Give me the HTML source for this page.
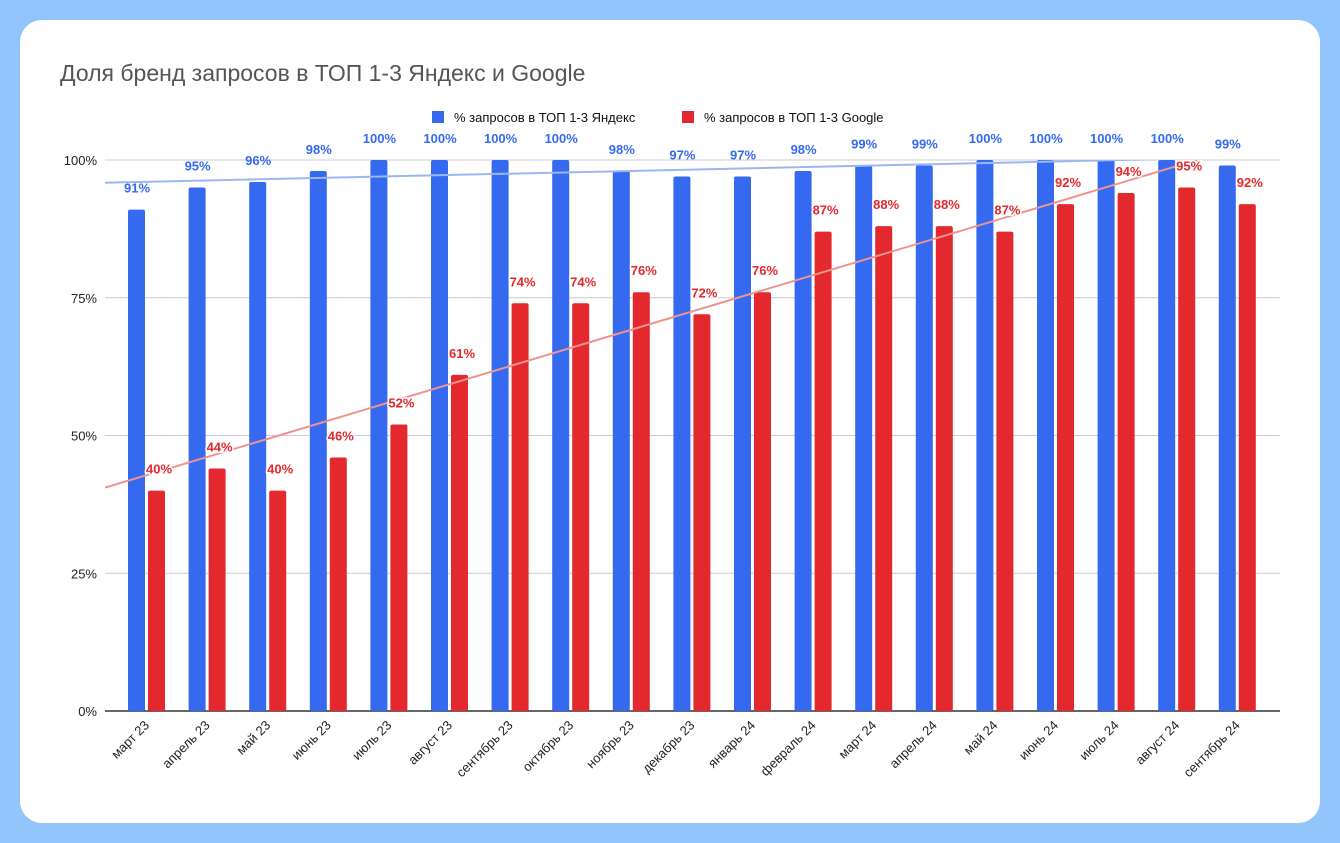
<!DOCTYPE html>
<html><head><meta charset="utf-8"><style>
body{margin:0;background:#93c5fd;width:1340px;height:843px;overflow:hidden;font-family:"Liberation Sans",Arial,sans-serif}
#card{position:absolute;left:20px;top:20px;width:1300px;height:803px;background:#fff;border-radius:22px}
</style></head><body>
<div id="card"></div>
<svg id="chart" width="1340" height="843" style="position:absolute;left:0;top:0">
<text x="60" y="81" font-size="23" fill="#555">Доля бренд запросов в ТОП 1-3 Яндекс и Google</text>
<g>
<rect x="432" y="111" width="12" height="12" fill="#3569f0"/>
<text x="454" y="122" font-size="13" fill="#111">% запросов в ТОП 1-3 Яндекс</text>
<rect x="682" y="111" width="12" height="12" fill="#e3292d"/>
<text x="704" y="122" font-size="13" fill="#111">% запросов в ТОП 1-3 Google</text>
</g>
<g id="grid"></g><g id="bars"></g><g id="trend"></g><g id="labels"></g>
</svg>
<script>
const categories=["март 23","апрель 23","май 23","июнь 23","июль 23","август 23","сентябрь 23","октябрь 23","ноябрь 23","декабрь 23","январь 24","февраль 24","март 24","апрель 24","май 24","июнь 24","июль 24","август 24","сентябрь 24"];
const yandex=[91,95,96,98,100,100,100,100,98,97,97,98,99,99,100,100,100,100,99];
const google=[40,44,40,46,52,61,74,74,76,72,76,87,88,88,87,92,94,95,92];
const ticks=[0,25,50,75,100];
const NS="http://www.w3.org/2000/svg";
const L=105,R=1280,Y0=711,Y100=160;
const y=v=>Y0-(v/100)*(Y0-Y100);
const xc=i=>147+i*60.6;
function mk(t,a,p){const e=document.createElementNS(NS,t);for(const k in a)e.setAttribute(k,a[k]);p.appendChild(e);return e;}
const grid=document.getElementById('grid'),bars=document.getElementById('bars'),trend=document.getElementById('trend'),labels=document.getElementById('labels');
ticks.forEach(t=>{
  const ln=mk('line',{x1:L,x2:R,y1:y(t),y2:y(t),stroke:t==0?'#333':'#ccc','stroke-width':t==0?1.5:1},grid);
  
  
  const tx=mk('text',{x:97,y:y(t)+5,'text-anchor':'end','font-size':13,fill:'#222'},grid);
  tx.textContent=t+'%';
  
  
});
categories.forEach((c,i)=>{
  const cx=xc(i);
  const b=mk('rect',{x:cx-19,y:y(yandex[i]),width:17,height:Y0-y(yandex[i]),fill:'#3569f0',rx:2},bars);
  
  
  const r=mk('rect',{x:cx+1,y:y(google[i]),width:17,height:Y0-y(google[i]),fill:'#e3292d',rx:2},bars);
  
  
  const t1=mk('text',{x:cx-10,y:y(yandex[i])-17,'text-anchor':'middle','font-size':13,'font-weight':'bold',fill:'#3569f0'},labels);
  t1.textContent=yandex[i]+'%';
  
  
  const t2=mk('text',{x:cx+12,y:y(google[i])-17,'text-anchor':'middle','font-size':13,'font-weight':'bold',fill:'#e3292d',stroke:'#fff','stroke-width':3,'paint-order':'stroke'},labels);
  t2.textContent=google[i]+'%';
  
  
  const xl=mk('text',{transform:`translate(${cx+3},${726}) rotate(-45)`,'text-anchor':'end','font-size':13,fill:'#222'},labels);
  xl.textContent=c;
  
  
});
function fit(arr){const n=arr.length;let sx=0,sy=0,sxy=0,sxx=0;arr.forEach((v,i)=>{sx+=i;sy+=v;sxy+=i*v;sxx+=i*i});const m=(n*sxy-sx*sy)/(n*sxx-sx*sx);return [m,(sy-m*sx)/n];}
const clip=mk('clipPath',{id:'pc'},trend);mk('rect',{x:L,y:Y100,width:R-L,height:Y0-Y100},clip);
[[yandex,'#9bb7f3','trendline-yandex'],[google,'#f0938f','trendline-google']].forEach(([a,col,nm])=>{
  const [m,b]=fit(a);const i0=(L-147)/60.6,i1=(R-147)/60.6;
  const ln=mk('line',{x1:L,x2:R,y1:y(b+m*i0),y2:y(b+m*i1),stroke:col,'stroke-width':2,'clip-path':'url(#pc)'},trend);
  
  
});
</script>
</body></html>
